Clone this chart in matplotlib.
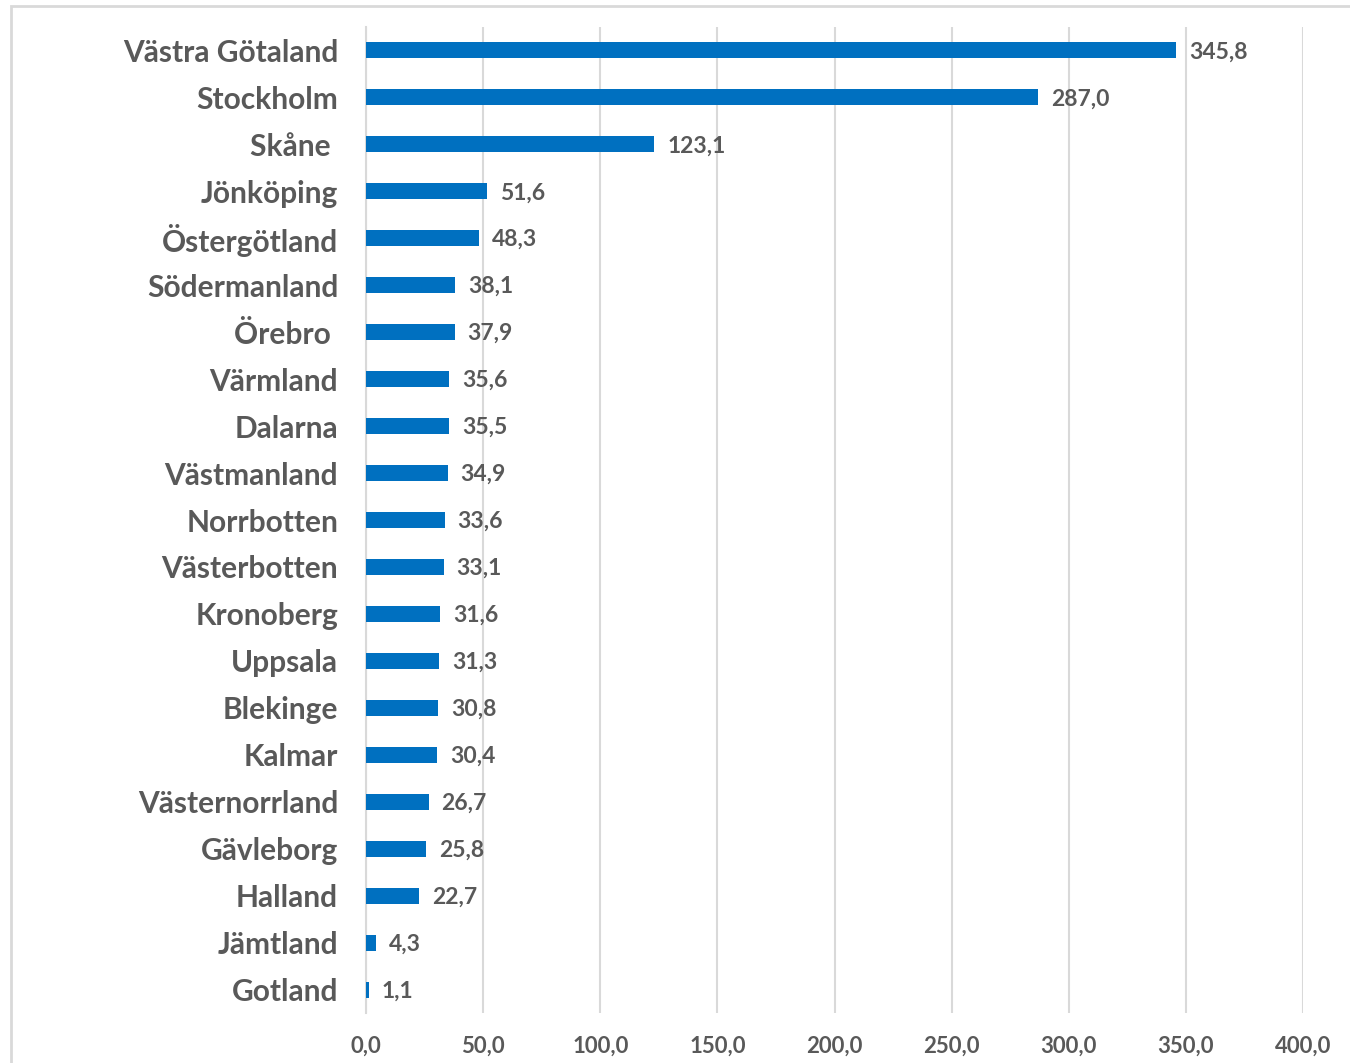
import numpy as np
import matplotlib.pyplot as plt
from matplotlib.patches import Rectangle

regions = ['Västra Götaland', 'Stockholm', 'Skåne ', 'Jönköping', 'Östergötland',
           'Södermanland', 'Örebro ', 'Värmland', 'Dalarna', 'Västmanland',
           'Norrbotten', 'Västerbotten', 'Kronoberg', 'Uppsala', 'Blekinge',
           'Kalmar', 'Västernorrland', 'Gävleborg', 'Halland', 'Jämtland', 'Gotland']
values = [345.8, 287.0, 123.1, 51.6, 48.3, 38.1, 37.9, 35.6, 35.5, 34.9,
          33.6, 33.1, 31.6, 31.3, 30.8, 30.4, 26.7, 25.8, 22.7, 4.3, 1.1]
xticks = [0, 50, 100, 150, 200, 250, 300, 350, 400]

txt = '#595959'
plt.rcParams['font.family'] = ['Lato', 'DejaVu Sans']
plt.rcParams['font.weight'] = 'bold'

fig = plt.figure(figsize=(13.5, 10.63), dpi=100)
ax = fig.add_axes([0.2711, 0.047, 0.6941, 0.9276])

# light frame round the whole chart
fig.patches.append(Rectangle((11 / 1350, -0.01), 1.0, 1 - 6 / 1063 + 0.01,
                             transform=fig.transFigure, fill=False,
                             edgecolor='#D9D9D9', linewidth=2))

y = np.arange(len(regions))
ax.barh(y, values, height=0.34, color='#0070C0', zorder=3)
for yi, v in zip(y, values):
    ax.text(v + 5.5, yi + 0.03, f'{v:.1f}'.replace('.', ','), va='center', ha='left',
            fontsize=16.5, color=txt, fontweight='bold')

ax.set_ylim(len(regions) - 0.5, -0.5)
ax.set_xlim(0, 400)
ax.set_yticks(y)
ax.set_yticklabels(regions, fontsize=21.5, color=txt, fontweight='bold')
ax.set_xticks(xticks)
ax.set_xticklabels([f'{t:.1f}'.replace('.', ',') for t in xticks],
                   fontsize=16, color=txt, fontweight='bold')
ax.tick_params(axis='y', length=0, pad=20)
ax.tick_params(axis='x', length=0, pad=16)
ax.grid(axis='x', color='#D9D9D9', linewidth=1.5, zorder=0)
for s in ['top', 'right', 'bottom']:
    ax.spines[s].set_visible(False)
ax.spines['left'].set_color('#D9D9D9')
ax.spines['left'].set_linewidth(1.5)

fig.savefig('out.png', dpi=100)
